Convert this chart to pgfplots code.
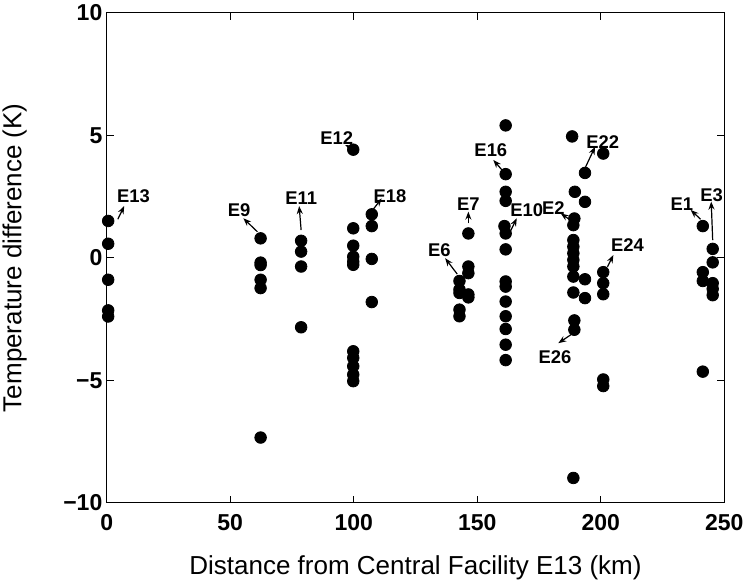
\documentclass[border=0pt]{standalone}
\usepackage{fontspec}
\setmainfont{Liberation Sans}
\usepackage{pgfplots}
\pgfplotsset{compat=1.18}
\usetikzlibrary{arrows.meta}

% distance (km), temperature difference (K)
\pgfplotstableread{
x y
0.6 1.50
0.6 0.57
0.6 -0.90
0.6 -2.15
0.6 -2.40
62.3 0.79
62.3 -0.20
62.3 -0.30
62.3 -0.90
62.3 -1.24
62.3 -7.34
78.7 0.69
78.7 0.25
78.7 -0.36
78.7 -2.84
99.8 4.41
99.8 1.20
99.8 0.49
99.8 0.04
99.8 -0.16
99.8 -0.29
99.8 -3.82
99.8 -4.09
99.8 -4.43
99.8 -4.77
99.8 -5.04
107.3 1.77
107.3 1.29
107.3 -0.05
107.3 -1.81
142.8 -0.95
142.8 -1.30
142.8 -1.44
142.8 -2.12
142.8 -2.39
146.4 0.99
146.4 -0.36
146.4 -0.63
146.4 -1.50
146.4 -1.62
161.5 5.40
161.5 3.41
161.5 2.69
161.5 2.32
161.0 1.29
161.5 0.99
161.5 0.34
161.5 -0.97
161.5 -1.18
161.5 -1.79
161.5 -2.39
161.5 -2.91
161.5 -3.55
161.5 -4.18
188.4 4.95
189.5 2.69
189.3 1.60
188.9 1.33
188.9 0.72
188.9 0.45
188.9 0.18
188.9 -0.09
188.9 -0.36
188.9 -0.77
188.9 -1.42
189.3 -2.56
189.3 -2.94
188.9 -8.99
193.6 3.46
193.6 2.28
193.6 -0.88
193.6 -1.65
201.0 4.25
201.0 -0.59
201.0 -1.04
201.0 -1.49
201.0 -4.97
201.0 -5.24
241.3 1.29
241.3 -0.59
241.3 -0.95
241.3 -4.65
245.3 0.36
245.3 -0.19
245.3 -1.04
245.3 -1.27
245.3 -1.53
}\temps

\begin{document}
\begin{tikzpicture}
\begin{axis}[
    scale only axis,
    width=308.8pt, height=245pt,
    xmin=0, xmax=250, ymin=-10, ymax=10,
    xtick={0,50,100,150,200,250},
    xticklabels={0,50,100,150,200,250},
    ytick={-10,-5,0,5,10},
    yticklabels={−10,−5,0,5,10},
    tick align=inside,
    major tick length=3.5pt,
    tick style={black, line width=0.6pt},
    axis line style={black, line width=0.6pt},
    tick label style={font=\bfseries\fontsize{11.5}{13}\selectfont},
    xticklabel style={inner sep=0pt, yshift=-5.5pt},
    yticklabel style={inner sep=0pt, xshift=-2pt},
    xlabel={Distance from Central Facility E13 (km)},
    ylabel={Temperature difference (K)},
    label style={font=\fontsize{13}{15}\selectfont},
    xlabel style={at={(axis description cs:0.5,-0.133)}, anchor=center},
    ylabel style={at={(axis description cs:-0.149,0.5)}, anchor=center},
    clip=false,
]
\coordinate (sw) at (axis description cs:0,0);
\addplot[only marks, mark=*, mark size=2.9pt, black] table[x=x, y=y] {\temps};

\tikzset{lab/.style={font=\bfseries\fontsize{9.2}{10}\selectfont, inner sep=0pt},
         arr/.style={-{Stealth[length=4pt,width=3pt]}, line width=0.6pt}}
\node[lab] at (axis cs:10.8,2.52) {E13};
\draw[arr] (axis cs:4.5,1.57) -- (axis cs:7.1,2.11);
\node[lab] at (axis cs:53.6,1.92) {E9};
\draw[arr] (axis cs:61.0,1.06) -- (axis cs:55.3,1.61);
\node[lab] at (axis cs:78.7,2.45) {E11};
\draw[arr] (axis cs:78.7,1.13) -- (axis cs:77.9,2.11);
\node[lab] at (axis cs:93.1,4.87) {E12};
\draw[arr] (axis cs:99.2,4.47) -- (axis cs:96.5,4.60);
\node[lab] at (axis cs:114.7,2.52) {E18};
\draw[arr] (axis cs:107.7,1.95) -- (axis cs:111.3,2.42);
\node[lab] at (axis cs:155.5,4.40) {E16};
\draw[arr] (axis cs:160.6,3.51) -- (axis cs:156.5,3.99);
\node[lab] at (axis cs:146.4,2.19) {E7};
\draw[arr] (axis cs:146.4,1.40) -- (axis cs:146.4,1.88);
\node[lab] at (axis cs:134.7,0.29) {E6};
\draw[arr] (axis cs:141.9,-0.67) -- (axis cs:137.0,-0.02);
\node[lab] at (axis cs:170.0,1.95) {E10};
\draw[arr] (axis cs:163.3,1.06) -- (axis cs:166.0,1.61);
\node[lab] at (axis cs:180.8,2.02) {E2};
\draw[arr] (axis cs:187.6,1.54) -- (axis cs:183.8,1.81);
\node[lab] at (axis cs:200.8,4.73) {E22};
\draw[arr] (axis cs:193.6,3.65) -- (axis cs:197.7,4.53);
\node[lab] at (axis cs:210.8,0.52) {E24};
\draw[arr] (axis cs:202.7,-0.37) -- (axis cs:205.1,0.11);
\node[lab] at (axis cs:181.5,-4.04) {E26};
\draw[arr] (axis cs:188.7,-3.09) -- (axis cs:182.8,-3.49);
\node[lab] at (axis cs:232.8,2.19) {E1};
\draw[arr] (axis cs:240.4,1.57) -- (axis cs:236.4,1.95);
\node[lab] at (axis cs:244.9,2.56) {E3};
\draw[arr] (axis cs:245.3,0.72) -- (axis cs:244.7,2.29);
\end{axis}
\pgfresetboundingbox
\path[use as bounding box] (sw) ++(-53.35pt,-41.15pt) rectangle ++(374.5pt,292.5pt);
\end{tikzpicture}
\end{document}
